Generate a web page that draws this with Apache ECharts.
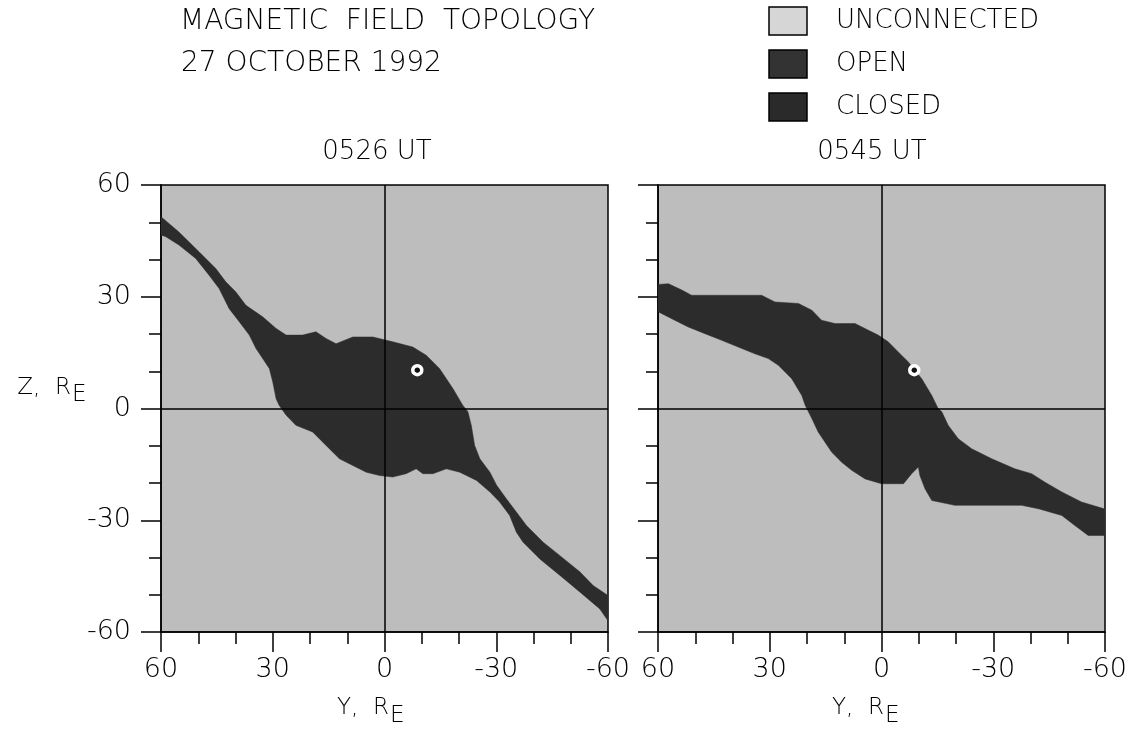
<!DOCTYPE html>
<html>
<head>
<meta charset="utf-8">
<script src="https://cdn.jsdelivr.net/npm/echarts/dist/echarts.min.js"></script>
<style>
  html, body { margin: 0; padding: 0; background: #fff; }
  #chart { width: 1133px; height: 742px; }
</style>
</head>
<body>
<div id="chart"></div>
<script>
// Axis tick labels, Earth radii
const yTickValues = [60, 30, 0, -30, -60];
const zTickValues = [-60, -30, 0, 30, 60];

// Panel titles (universal time of each snapshot)
const panelTimes = ['0526 UT', '0545 UT'];

// Topology classes shown in the key
const legendNames = ['UNCONNECTED', 'OPEN', 'CLOSED'];

// Spacecraft position [Y, Z] in R_E
const spacecraft = [-8.8, 10.3];

// Outline of the connected-field region at 0526 UT, [Y, Z] vertices in R_E
const region0526 = [
  [60, 51.5], [55.2, 47.4], [49.8, 42.1], [45.3, 37.6], [42.6, 34.0], [39.9, 31.3],
  [37.2, 27.7], [32.7, 24.6], [29.1, 21.5], [26.4, 19.7], [22.0, 19.7], [18.4, 20.6],
  [15.7, 18.8], [13.0, 17.4], [8.5, 19.2], [3.1, 19.2], [-2.2, 17.9], [-7.6, 16.5],
  [-11.2, 14.3], [-14.8, 10.7], [-18.4, 5.3], [-21.0, 0.9], [-22.4, -0.9], [-23.3, -4.5],
  [-24.2, -9.9], [-25.6, -13.5], [-28.3, -17.1], [-30.1, -20.6], [-32.7, -24.2],
  [-35.4, -27.8], [-38.1, -31.4], [-42.6, -35.9], [-47.1, -39.5], [-52.5, -43.9],
  [-56.0, -47.5], [-60, -50.2], [-60, -57.0], [-57.8, -53.8], [-52.5, -49.3],
  [-47.1, -44.8], [-41.7, -40.4], [-37.2, -35.9], [-35.4, -33.2], [-33.6, -28.7],
  [-30.9, -25.1], [-28.3, -22.4], [-24.7, -19.3], [-20.2, -17.1], [-16.6, -16.2],
  [-13.0, -17.5], [-10.3, -17.5], [-8.5, -16.2], [-5.8, -17.5], [-2.2, -18.4],
  [1.3, -18.0], [4.9, -17.1], [8.5, -15.3], [12.1, -13.5], [15.7, -9.9], [19.3, -6.3],
  [23.8, -4.5], [26.4, -1.8], [28.3, 0.9], [29.1, 2.6], [30.0, 7.1], [30.9, 10.7],
  [32.7, 13.4], [34.5, 16.1], [36.3, 19.7], [39.0, 23.3], [41.7, 26.8], [44.4, 32.2],
  [47.1, 35.8], [50.7, 40.3], [55.2, 43.9], [58.7, 46.1], [60, 46.6]
];

// Outline of the connected-field region at 0545 UT, [Y, Z] vertices in R_E
const region0545 = [
  [60, 33.3], [57.2, 33.5], [53.6, 31.8], [51.0, 30.4], [42.9, 30.4], [32.2, 30.4],
  [28.6, 28.6], [22.3, 28.2], [18.7, 26.4], [16.1, 23.7], [12.5, 22.8], [7.1, 22.8],
  [3.5, 21.0], [0.9, 19.7], [-1.8, 17.9], [-4.5, 15.2], [-7.2, 12.5], [-10.8, 8.0],
  [-13.5, 3.5], [-15.2, 0], [-16.2, -0.9], [-17.9, -4.5], [-20.6, -8.1], [-24.2, -10.8],
  [-29.6, -13.5], [-35.8, -16.2], [-40.3, -17.5], [-43.9, -19.8], [-48.4, -22.4],
  [-53.7, -25.1], [-60, -27.0], [-60, -34.1], [-55.5, -34.1], [-51.9, -31.4],
  [-48.4, -28.7], [-42.1, -26.9], [-37.6, -26.0], [-28.7, -26.0], [-19.7, -26.0],
  [-13.5, -24.7], [-11.7, -21.6], [-10.3, -18.0], [-9.9, -15.7], [-8.1, -17.5],
  [-5.9, -20.2], [0, -20.2], [4.4, -18.9], [8.0, -16.6], [10.7, -14.4], [13.4, -11.7],
  [15.2, -9.0], [17.0, -6.3], [18.7, -2.7], [20.5, 0.9], [21.4, 3.5], [24.1, 8.0],
  [27.7, 11.6], [30.4, 13.4], [34.0, 14.7], [37.5, 16.1], [42.9, 18.3], [47.4, 20.1],
  [51.9, 21.9], [56.3, 24.1], [60, 26.0]
];

const regions = [region0526, region0545];

// ---- styling ----
const FONT = 'DejaVu Sans';
const WEIGHT = 200;
const INK = '#000';
const UNCONNECTED_FILL = '#bdbdbd';
const CONNECTED_FILL = '#2c2c2c';
const KEY_FILLS = ['#d6d6d6', '#333333', '#2a2a2a'];

const gridBoxes = [
  { left: 161, top: 185, width: 447, height: 447 },
  { left: 658, top: 185, width: 447, height: 447 }
];

const labelStyle = { color: INK, fontSize: 27, fontFamily: FONT, fontWeight: WEIGHT };

function xAxisFor(i) {
  return {
    gridIndex: i, type: 'value', min: -60, max: 60, interval: 30, inverse: true,
    axisLine: { show: true, onZero: false, lineStyle: { color: INK, width: 1.5 } },
    axisTick: { show: true, length: 20, lineStyle: { color: INK, width: 1.5 } },
    minorTick: { show: true, splitNumber: 3, length: 12, lineStyle: { color: INK, width: 1.5 } },
    splitLine: { show: false },
    axisLabel: Object.assign({
      show: true, margin: 24, showMinLabel: true, showMaxLabel: true,
      formatter: v => (yTickValues.includes(v) ? String(v) : '')
    }, labelStyle)
  };
}

function yAxisFor(i) {
  return {
    gridIndex: i, type: 'value', min: -60, max: 60, interval: 30,
    axisLine: { show: true, onZero: false, lineStyle: { color: INK, width: 1.5 } },
    axisTick: { show: true, length: 20, lineStyle: { color: INK, width: 1.5 } },
    minorTick: { show: true, splitNumber: 3, length: 12, lineStyle: { color: INK, width: 1.5 } },
    splitLine: { show: false },
    axisLabel: Object.assign({
      show: i === 0, margin: 30, showMinLabel: true, showMaxLabel: true,
      formatter: v => (zTickValues.includes(v) ? String(v) : '')
    }, labelStyle)
  };
}

function regionSeries(i) {
  const outline = regions[i];
  return {
    type: 'custom', name: 'connected ' + panelTimes[i],
    xAxisIndex: i, yAxisIndex: i, clip: true, silent: true,
    data: [[0, 0]],
    renderItem: (params, api) => ({
      type: 'polygon',
      shape: { points: outline.map(p => api.coord(p)) },
      style: { fill: CONNECTED_FILL, stroke: CONNECTED_FILL, lineWidth: 0.5 }
    }),
    markLine: {
      silent: true, symbol: ['none', 'none'], label: { show: false },
      lineStyle: { color: INK, width: 1.5, type: 'solid' },
      data: [{ xAxis: 0 }, { yAxis: 0 }]
    },
    z: 2
  };
}

function spacecraftSeries(i) {
  return {
    type: 'scatter', name: 'spacecraft ' + panelTimes[i],
    xAxisIndex: i, yAxisIndex: i, silent: true,
    symbol: 'circle', symbolSize: 9,
    itemStyle: { color: '#111', borderColor: '#fff', borderWidth: 3.5, opacity: 1 },
    data: [spacecraft], z: 5
  };
}

// ---- text and key ----
const txt = (text, x, y, size, align) => ({
  type: 'text', x, y,
  style: {
    text, fill: INK, font: `${WEIGHT} ${size}px "${FONT}"`,
    textAlign: align || 'left', textVerticalAlign: 'middle'
  }
});

const graphics = [
  txt('MAGNETIC  FIELD  TOPOLOGY', 180, 22, 28),
  txt('27 OCTOBER 1992', 181, 64, 28),
  txt(panelTimes[0], 377, 152, 26, 'center'),
  txt(panelTimes[1], 872, 152, 26, 'center'),
  // axis titles with subscript E
  txt('Z,  R', 71, 388, 23, 'right'),
  txt('E', 72, 395, 23),
  txt('Y,  R', 389, 708, 23, 'right'),
  txt('E', 390, 716, 23),
  txt('Y,  R', 884, 708, 23, 'right'),
  txt('E', 885, 716, 23)
];

const keyRows = [21, 64, 107];
legendNames.forEach((name, k) => {
  graphics.push({
    type: 'rect', shape: { x: 769, y: keyRows[k] - 14, width: 38, height: 28 },
    style: { fill: KEY_FILLS[k], stroke: INK, lineWidth: 1.5 }
  });
  graphics.push(txt(name, 836, keyRows[k], 26));
});

const chart = echarts.init(document.getElementById('chart'));
chart.setOption({
  animation: false,
  backgroundColor: '#fff',
  grid: gridBoxes.map(g => Object.assign({
    show: true, backgroundColor: UNCONNECTED_FILL, borderColor: INK, borderWidth: 1.5
  }, g)),
  xAxis: [xAxisFor(0), xAxisFor(1)],
  yAxis: [yAxisFor(0), yAxisFor(1)],
  series: [regionSeries(0), regionSeries(1), spacecraftSeries(0), spacecraftSeries(1)],
  graphic: graphics
});
</script>
</body>
</html>
